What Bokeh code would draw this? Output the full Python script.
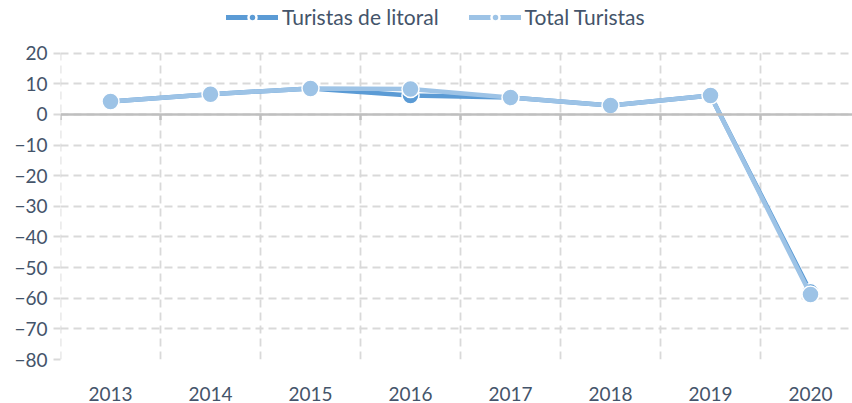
from bokeh.plotting import figure
from bokeh.models import FixedTicker, Span, Legend, LegendItem, Range1d
from bokeh.embed import file_html
from bokeh.resources import INLINE

years = ["2013", "2014", "2015", "2016", "2017", "2018", "2019", "2020"]
litoral = [4.2, 6.6, 8.5, 6.2, 5.5, 2.9, 6.2, -58.0]
total = [4.2, 6.6, 8.5, 8.3, 5.5, 2.9, 6.2, -58.8]
y_ticks = [-80, -70, -60, -50, -40, -30, -20, -10, 0, 10, 20]

xs = [i + 0.5 for i in range(len(years))]
bounds = list(range(len(years) + 1))
nan = float("nan")

FONT = "Lato"
TXT = "#44546A"
C_LIT = "#5B9BD5"
C_TOT = "#9DC3E6"
GRID = "#D9D9D9"

# frame spans the full height; y above 20 is room for the legend
p = figure(width=852, height=403, output_backend="svg", toolbar_location=None,
           x_range=Range1d(0, 7.92), y_range=Range1d(-80, 37.2),
           min_border_left=60, min_border_right=0, min_border_bottom=42,
           min_border_top=0)
p.outline_line_color = None
p.background_fill_color = "white"
p.border_fill_color = "white"

# grid
p.xgrid.visible = False
p.segment(x0=bounds, y0=[y_ticks[0]] * len(bounds), x1=bounds, y1=[y_ticks[-1]] * len(bounds),
          line_color=GRID, line_dash="8 5", line_width=1.8)
p.ygrid.ticker = FixedTicker(ticks=y_ticks)
p.ygrid.grid_line_color = GRID
p.ygrid.grid_line_dash = "8 5"
p.ygrid.grid_line_width = 1.8

# axes
p.xaxis.ticker = FixedTicker(ticks=xs)
p.xaxis.major_label_overrides = {x: y for x, y in zip(xs, years)}
p.xaxis.axis_line_color = None
p.xaxis.major_tick_line_color = None
p.xaxis.minor_tick_line_color = None
p.xaxis.major_label_text_font = FONT
p.xaxis.major_label_text_font_size = "19px"
p.xaxis.major_label_text_color = TXT
p.xaxis.major_label_standoff = 21

p.yaxis.ticker = FixedTicker(ticks=y_ticks)
p.yaxis.axis_line_color = None
p.yaxis.major_tick_line_color = GRID
p.yaxis.major_tick_line_width = 1.8
p.yaxis.major_tick_out = 7
p.yaxis.major_tick_in = 0
p.yaxis.minor_tick_line_color = None
p.yaxis.major_label_text_font = FONT
p.yaxis.major_label_text_font_size = "19px"
p.yaxis.major_label_text_color = TXT
p.yaxis.major_label_standoff = 6

zero = Span(location=0, dimension="width", line_color="#BFBFBF", line_width=2.5)
p.add_layout(zero)
p.segment(x0=bounds, y0=[0] * len(bounds), x1=bounds, y1=[-1.8] * len(bounds),
          line_color="#BFBFBF", line_width=2.5)

l1 = p.line(xs, litoral, line_color=C_LIT, line_width=4.5)
m1 = p.scatter(xs, litoral, size=17, fill_color=C_LIT, line_color="white", line_width=1.5)
l2 = p.line(xs, total, line_color=C_TOT, line_width=4.5)
m2 = p.scatter(xs, total, size=17, fill_color=C_TOT, line_color="white", line_width=1.5)

# legend-only glyphs (smaller markers like the reference); NaN data draws nothing
gl1 = p.line([nan, nan], [nan, nan], line_color=C_LIT, line_width=5, line_cap="round")
gm1 = p.scatter([nan], [nan], size=9, fill_color=C_LIT, line_color="white", line_width=2.5)
gl2 = p.line([nan, nan], [nan, nan], line_color=C_TOT, line_width=5, line_cap="round")
gm2 = p.scatter([nan], [nan], size=9, fill_color=C_TOT, line_color="white", line_width=2.5)

leg = Legend(items=[LegendItem(label="Turistas de litoral", renderers=[gl1, gm1]),
                    LegendItem(label="Total Turistas", renderers=[gl2, gm2])],
             orientation="horizontal", location=(166, 330),
             label_text_font=FONT, label_text_font_size="21px", label_text_color=TXT,
             border_line_color=None, background_fill_alpha=0,
             glyph_width=52, glyph_height=20, label_height=20,
             spacing=30, padding=4, margin=0, label_standoff=4)
p.add_layout(leg, "center")

open("out.html", "w").write(file_html(p, INLINE))
